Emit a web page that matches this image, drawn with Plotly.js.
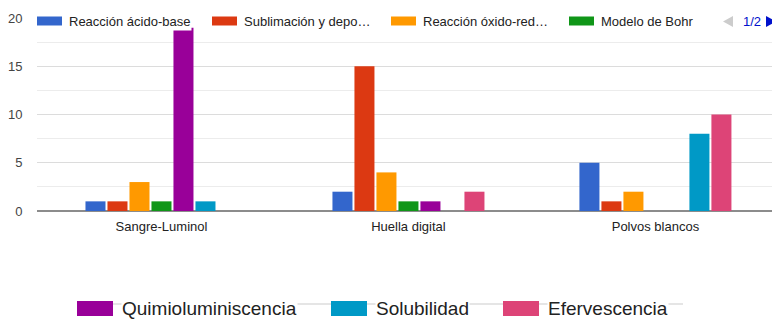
<!DOCTYPE html>
<html>
<head>
<meta charset="utf-8">
<script src="https://cdn.plot.ly/plotly-3.0.1.min.js"></script>
<style>
html,body{margin:0;padding:0;background:#fff;overflow:hidden;}
#chart{width:772px;height:320px;}
</style>
</head>
<body>
<div id="chart"></div>
<script>
// ---- data ----
const categories = ['Sangre-Luminol', 'Huella digital', 'Polvos blancos'];
const seriesNames = ['Reacción ácido-base', 'Sublimación y depo…', 'Reacción óxido-red…', 'Modelo de Bohr',
                     'Quimioluminiscencia', 'Solubilidad', 'Efervescencia'];
const reaccionAcidoBase = [1, 2, 5];
const sublimacion       = [1, 15, 1];
const reaccionOxidoRed  = [3, 4, 2];
const modeloBohr        = [1, 1, 0];
const quimioluminiscencia = [19, 1, 0];
const solubilidad       = [1, 0, 8];
const efervescencia     = [0, 2, 10];
const pagerLabel = '1/2';

const seriesValues = [reaccionAcidoBase, sublimacion, reaccionOxidoRed, modeloBohr,
                      quimioluminiscencia, solubilidad, efervescencia];
const colors = ['#3366cc', '#dc3912', '#ff9900', '#109618', '#990099', '#0099c6', '#dd4477'];

const FONT = 'Liberation Sans, Arial, Helvetica, sans-serif';

const traces = seriesValues.map((vals, i) => ({
  type: 'bar',
  name: seriesNames[i],
  x: categories,
  y: vals,
  marker: {color: colors[i], line: {width: 0}},
  showlegend: false,
  hoverinfo: 'none'
}));

// pixel -> paper helpers (plot area: x 37..772, y 18..211)
const L = 37, R = 772, T = 18, B = 211;
const px = v => (v - L) / (R - L);
const py = v => (B - v) / (B - T);

const shapes = [];
const annotations = [];

// bottom legend background line
shapes.push({type: 'line', xref: 'paper', yref: 'paper', x0: px(77), x1: px(683), y0: py(304), y1: py(304),
             line: {color: '#dddddd', width: 1.5}, layer: 'above'});

// top legend (first 4)
const topSw = [37, 212, 391, 569];
for (let i = 0; i < 4; i++) {
  shapes.push({type: 'rect', xref: 'paper', yref: 'paper', x0: px(topSw[i]), x1: px(topSw[i] + 25),
               y0: py(25.5), y1: py(16.5), fillcolor: colors[i], line: {width: 0}, layer: 'above'});
  annotations.push({xref: 'paper', yref: 'paper', x: px(topSw[i] + 30), y: py(21.5), xanchor: 'left', yanchor: 'middle',
                    text: seriesNames[i], showarrow: false, bgcolor: '#ffffff', borderpad: 1,
                    font: {family: FONT, size: 13, color: '#222222'}});
}
// pager
shapes.push({type: 'path', xref: 'paper', yref: 'paper',
             path: `M ${px(733)} ${py(16)} L ${px(723)} ${py(21.5)} L ${px(733)} ${py(27)} Z`,
             fillcolor: '#cccccc', line: {width: 0}, layer: 'above'});
annotations.push({xref: 'paper', yref: 'paper', x: px(752), y: py(21.5), xanchor: 'center', yanchor: 'middle',
                  text: pagerLabel, showarrow: false, font: {family: FONT, size: 13, color: '#0011cc'}});
shapes.push({type: 'path', xref: 'paper', yref: 'paper',
             path: `M ${px(766)} ${py(16)} L ${px(776)} ${py(21.5)} L ${px(766)} ${py(27)} Z`,
             fillcolor: '#0011cc', line: {width: 0}, layer: 'above'});

// bottom legend (last 3)
const botSw = [77, 331, 503];
for (let j = 0; j < 3; j++) {
  const i = j + 4;
  shapes.push({type: 'rect', xref: 'paper', yref: 'paper', x0: px(botSw[j]), x1: px(botSw[j] + 36),
               y0: py(316), y1: py(301), fillcolor: colors[i], line: {width: 0}, layer: 'above'});
  annotations.push({xref: 'paper', yref: 'paper', x: px(botSw[j] + 44), y: py(308), xanchor: 'left', yanchor: 'middle',
                    text: seriesNames[i], showarrow: false, bgcolor: '#ffffff', borderpad: 0,
                    font: {family: FONT, size: 19, color: '#222222'}});
}

const layout = {
  width: 772, height: 320,
  margin: {l: L, r: 0, t: T, b: 320 - B, pad: 0},
  paper_bgcolor: '#ffffff', plot_bgcolor: '#ffffff',
  font: {family: FONT, size: 13, color: '#222222'},
  barmode: 'group',
  bargap: 0.3765,
  bargroupgap: 0.09,
  showlegend: false,
  xaxis: {
    type: 'category', range: [-0.504, 2.472], showgrid: false, zeroline: false, showline: false,
    ticks: 'outside', ticklen: 3, tickcolor: 'rgba(0,0,0,0)',
    tickfont: {family: FONT, size: 13, color: '#222222'}, fixedrange: true
  },
  yaxis: {
    range: [0, 20], tick0: 0, dtick: 5, showgrid: true, gridcolor: '#dcdcdc', gridwidth: 1,
    minor: {dtick: 2.5, showgrid: true, gridcolor: '#ececec', gridwidth: 1, ticks: ''},
    zeroline: true, zerolinecolor: '#8c8c8c', zerolinewidth: 1.5, showline: false,
    ticks: 'outside', ticklen: 11, tickcolor: 'rgba(0,0,0,0)',
    tickfont: {family: FONT, size: 13, color: '#444444'}, fixedrange: true
  },
  shapes: shapes,
  annotations: annotations
};

Plotly.newPlot('chart', traces, layout, {displayModeBar: false, staticPlot: true});
</script>
</body>
</html>
